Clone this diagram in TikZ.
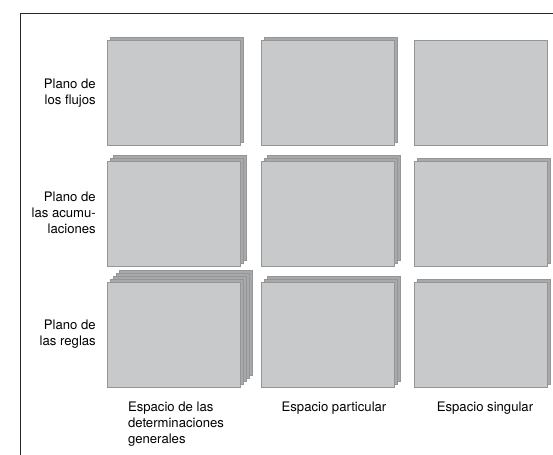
\documentclass[tikz,border=0pt]{standalone}
\usepackage{fontspec}
\setmainfont{TeX Gyre Heros}
\definecolor{boxfill}{RGB}{200,201,203}
\definecolor{boxline}{RGB}{148,149,151}
\definecolor{backfill}{RGB}{168,169,171}

\begin{document}
\begin{tikzpicture}[scale=0.03]
		\tikzstyle{every node}+=[inner sep=0pt, font=\fontsize{11.2}{13.6}\selectfont]
		\tikzstyle{front}=[fill=boxfill, draw=boxline, line width=0.6pt]
		\tikzstyle{back}=[fill=backfill, draw=boxline, line width=0.6pt]
		\useasboundingbox (0,0) rectangle (553,-455);
		\draw [black!85, line width=0.8pt] (553,-13) -- (20,-13) -- (20,-455);
		% plano de los flujos
		\draw [back] (110,-37) rectangle (243,-142);
		\draw [front] (107,-40) rectangle (240,-145);
		\draw [back] (264,-37) rectangle (397,-142);
		\draw [front] (261,-40) rectangle (394,-145);
		\draw [front] (414,-40) rectangle (547,-145);
		% plano de las acumulaciones
		\draw [back] (113,-155) rectangle (246,-260);
		\draw [back] (110,-158) rectangle (243,-263);
		\draw [front] (107,-161) rectangle (240,-266);
		\draw [back] (267,-155) rectangle (400,-260);
		\draw [back] (264,-158) rectangle (397,-263);
		\draw [front] (261,-161) rectangle (394,-266);
		\draw [back] (417,-158) rectangle (550,-263);
		\draw [front] (414,-161) rectangle (547,-266);
		% plano de las reglas
		\draw [back] (119,-270) rectangle (252,-375);
		\draw [back] (116,-273) rectangle (249,-378);
		\draw [back] (113,-276) rectangle (246,-381);
		\draw [back] (110,-279) rectangle (243,-384);
		\draw [front] (107,-282) rectangle (240,-387);
		\draw [back] (267,-276) rectangle (400,-381);
		\draw [back] (264,-279) rectangle (397,-384);
		\draw [front] (261,-282) rectangle (394,-387);
		\draw [back] (417,-279) rectangle (550,-384);
		\draw [front] (414,-282) rectangle (547,-387);
		% rotulos
		\node [left, align=right] (flujos) at (96,-93) {Plano de\\los flujos};
		\node [left, align=right] (acumulaciones) at (96,-213) {Plano de\\las acumu-\\laciones};
		\node [left, align=right] (reglas) at (96,-334) {Plano de\\las reglas};
		\node [below, align=left] (general) at (176,-402) {Espacio de las\\determinaciones\\generales};
		\node [below] (particular) at (334,-402) {Espacio particular};
		\node [below] (singular) at (485,-402) {Espacio singular};
\end{tikzpicture}
\end{document}
